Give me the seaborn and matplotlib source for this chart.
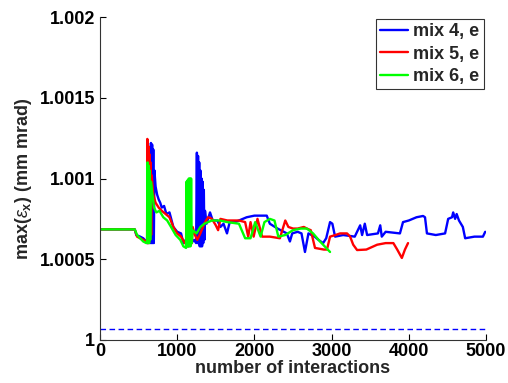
import numpy as np
import pandas as pd
import matplotlib
matplotlib.use("Agg")
import matplotlib.pyplot as plt
import seaborn as sns

# ---- data ----
mix4_x = [0, 450, 470, 520, 560, 600, 620, 640, 650, 660, 668, 675, 682, 690, 697, 705, 720, 740, 760, 780,
          800, 830, 860, 900, 950, 1000, 1050, 1080, 1110, 1140, 1180, 1220, 1245, 1255, 1262, 1270, 1277, 1285,
          1292, 1300, 1307, 1315, 1322, 1330, 1337, 1345, 1352, 1360, 1380, 1425, 1460, 1520, 1560, 1600, 1645,
          1680, 1750, 1850, 1900, 2000, 2160, 2200, 2300, 2420, 2460, 2490, 2560, 2610, 2655, 2700, 2780, 2830,
          2890, 2930, 2980, 3010, 3045, 3150, 3300, 3370, 3395, 3430, 3460, 3600, 3630, 3650, 3700, 3885, 3925,
          4000, 4100, 4185, 4210, 4235, 4350, 4470, 4510, 4560, 4575, 4600, 4620, 4650, 4700, 4730, 4850, 4960, 4990]
mix4_y = [1.000685, 1.000685, 1.00065, 1.00064, 1.00063, 1.00061, 1.0006, 1.00062, 1.0006, 1.00122, 1.0006,
          1.00121, 1.0006, 1.00118, 1.0006, 1.00105, 1.00095, 1.0009, 1.00087, 1.00085,
          1.00082, 1.00083, 1.00078, 1.00079, 1.0007, 1.00067, 1.00066, 1.0006, 1.00062, 1.00058, 1.0006, 1.00062,
          1.0006, 1.00116, 1.0006, 1.00114, 1.0006, 1.0011, 1.00058, 1.00105, 1.00058, 1.001, 1.00058, 1.00098,
          1.0006, 1.00093, 1.00062, 1.0008, 1.00072, 1.00079, 1.00074, 1.00074, 1.0007, 1.00072, 1.00066,
          1.00073, 1.00073, 1.00075, 1.00076, 1.00077, 1.00077, 1.00072, 1.00069, 1.00066, 1.00061, 1.00066,
          1.00067, 1.00066, 1.000545, 1.00066, 1.00064, 1.00062, 1.0006, 1.00063, 1.00073, 1.00072, 1.00064,
          1.00065, 1.00064, 1.00071, 1.00065, 1.00072, 1.00065, 1.00066, 1.00071, 1.00064, 1.00067, 1.00066,
          1.00073, 1.00074, 1.00076, 1.000768, 1.00076, 1.00066, 1.00065, 1.00066, 1.00075, 1.00076, 1.00079,
          1.00075, 1.00078, 1.00074, 1.0007, 1.00063, 1.00064, 1.00064, 1.00067]

mix5_x = [0, 450, 480, 520, 560, 600, 610, 613, 620, 627, 634, 641, 648, 655, 662, 670, 690, 720, 760, 800,
          850, 900, 950, 1000, 1050, 1100, 1150, 1190, 1200, 1230, 1260, 1300, 1350, 1400, 1450, 1500, 1530,
          1560, 1650, 1800, 1880, 1920, 1950, 1990, 2040, 2100, 2200, 2330, 2400, 2440, 2500, 2560, 2640, 2680,
          2730, 2785, 2900, 2940, 2980, 3050, 3110, 3200, 3240, 3280, 3330, 3450, 3590, 3700, 3800, 3850, 3910,
          3950, 3990]
mix5_y = [1.000685, 1.000685, 1.00064, 1.00063, 1.00062, 1.00061, 1.0006, 1.001245, 1.0006, 1.0012, 1.0006,
          1.00115, 1.00062, 1.0011, 1.00065, 1.00102, 1.0009, 1.00085, 1.00082, 1.0008,
          1.00078, 1.00076, 1.0007, 1.00066, 1.00064, 1.0006, 1.00058, 1.0006, 1.0007, 1.00065, 1.00062, 1.00066,
          1.00072, 1.00076, 1.00075, 1.00071, 1.00068, 1.00075, 1.00074, 1.00074, 1.00073, 1.00064, 1.00073,
          1.00064, 1.00075, 1.00064, 1.00064, 1.00063, 1.00074, 1.0007, 1.00069, 1.00069, 1.0007, 1.00069,
          1.00068, 1.00057, 1.00056, 1.00056, 1.00064, 1.00065, 1.00066, 1.00066, 1.00064, 1.00059, 1.000557,
          1.00056, 1.00059, 1.0006, 1.0006, 1.00056, 1.000508, 1.00056, 1.0006]

mix6_x = [0, 450, 480, 520, 560, 600, 610, 615, 622, 629, 636, 643, 650, 660, 680, 700, 730, 770, 820, 870,
          920, 980, 1040, 1080, 1115, 1120, 1128, 1135, 1142, 1150, 1158, 1165, 1172, 1180, 1188, 1200, 1250,
          1300, 1350, 1400, 1450, 1550, 1650, 1800, 1880, 1950, 2010, 2080, 2130, 2200, 2260, 2310, 2400, 2500,
          2600, 2680, 2760, 2850, 2930, 2980]
mix6_y = [1.000685, 1.000685, 1.00065, 1.00063, 1.00061, 1.0006, 1.00061, 1.0011, 1.0006, 1.00108, 1.0006,
          1.00105, 1.00062, 1.00098, 1.0009, 1.00082, 1.00079, 1.0008, 1.00076, 1.00074,
          1.0007, 1.00065, 1.00062, 1.00058, 1.00057, 1.00098, 1.00058, 1.00099, 1.00058, 1.001, 1.00058, 1.001,
          1.00058, 1.001, 1.0006, 1.00068, 1.00066, 1.0007, 1.00072, 1.00073, 1.00074, 1.00074, 1.00073, 1.00072,
          1.00063, 1.00063, 1.00073, 1.00064, 1.00073, 1.00075, 1.00074, 1.00064, 1.00065, 1.00068, 1.00069,
          1.00069, 1.00066, 1.00061, 1.00057, 1.000545]

ref_x = [0, 5000]
ref_y = [1.000068, 1.000068]

series_names = ["mix 4, e", "mix 5, e", "mix 6, e"]
x_ticks = [0, 1000, 2000, 3000, 4000, 5000]
y_ticks = [1.0, 1.0005, 1.001, 1.0015, 1.002]
y_tick_labels = ["1", "1.0005", "1.001", "1.0015", "1.002"]

# ---- build table ----
frames = []
for name, xs, ys in zip(series_names, [mix4_x, mix5_x, mix6_x], [mix4_y, mix5_y, mix6_y]):
    frames.append(pd.DataFrame({"x": xs, "y": ys, "series": name, "order": np.arange(len(xs))}))
df = pd.concat(frames, ignore_index=True)
ref_df = pd.DataFrame({"x": ref_x, "y": ref_y})

sns.set_style("white")
plt.rcParams["font.family"] = ["Liberation Sans", "DejaVu Sans"]
plt.rcParams["mathtext.fontset"] = "custom"
plt.rcParams["mathtext.rm"] = "Liberation Sans"
plt.rcParams["mathtext.it"] = "Liberation Sans:italic"
plt.rcParams["mathtext.bf"] = "Liberation Sans:bold"

FS = 13

fig = plt.figure(figsize=(5.08, 3.83), dpi=100)
ax = fig.add_axes([100 / 508, 43 / 383, 386 / 508, 323 / 383])

palette = {"mix 4, e": "#0000FF", "mix 5, e": "#FF0000", "mix 6, e": "#00FF00"}
sns.lineplot(data=df, x="x", y="y", hue="series", hue_order=series_names, palette=palette,
             sort=False, estimator=None, units="series", linewidth=1.7, ax=ax)
sns.lineplot(data=ref_df, x="x", y="y", color="#0000FF", linewidth=1.0, linestyle=(0, (4, 2.5)),
             ax=ax, legend=False)

ax.set_xlim(0, 5000)
ax.set_ylim(1.0, 1.002)
ax.set_xticks(x_ticks)
ax.set_xticklabels([str(t) for t in x_ticks], fontsize=FS, fontweight="bold")
ax.set_yticks(y_ticks)
ax.set_yticklabels(y_tick_labels, fontsize=FS, fontweight="bold")
ax.tick_params(direction="in", length=4, width=0.8, colors="black", bottom=True, left=True)
ax.tick_params(axis="x", pad=2)
ax.tick_params(axis="y", pad=3.5)
ax.set_xlabel("number of interactions", fontsize=FS, fontweight="bold", labelpad=0)
ax.set_ylabel(r"max($\varepsilon_{\mathbf{x}}$) (mm mrad)", fontsize=FS, fontweight="bold", labelpad=4)
for s in ["top", "right"]:
    ax.spines[s].set_visible(False)
for s in ["left", "bottom"]:
    ax.spines[s].set_color("#333333")
    ax.spines[s].set_linewidth(0.8)

handles, labels = ax.get_legend_handles_labels()
leg = ax.legend(handles[:3], labels[:3], loc="upper right", bbox_to_anchor=(0.995, 0.995),
                prop={"weight": "bold", "size": FS}, frameon=True, fancybox=False,
                edgecolor="black", handlelength=1.55, handletextpad=0.3, borderpad=0.25,
                labelspacing=0.3, borderaxespad=0.0)
leg.get_frame().set_linewidth(0.8)

fig.savefig("out.png", dpi=100, facecolor="white")
